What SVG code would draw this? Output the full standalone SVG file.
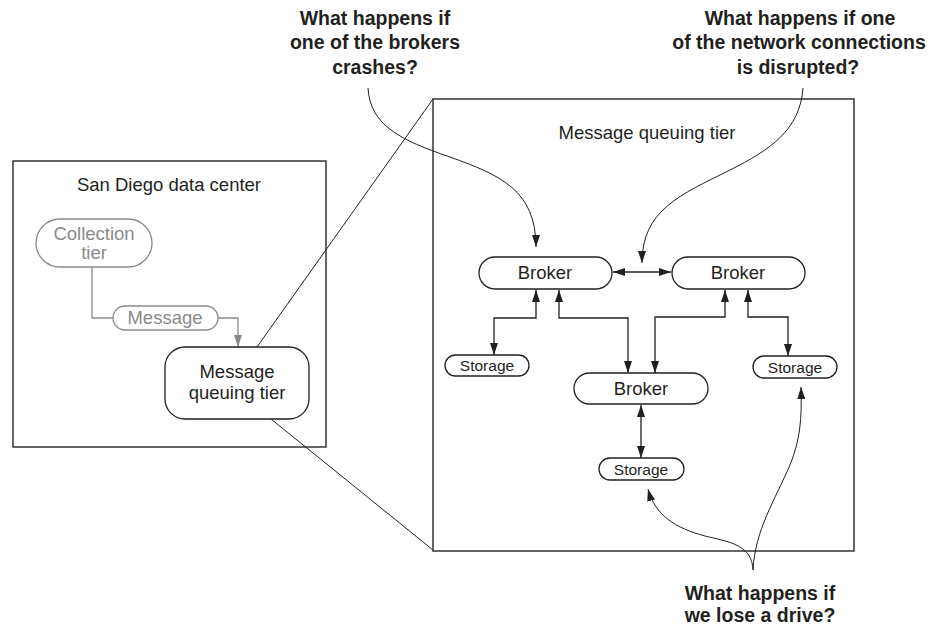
<svg xmlns="http://www.w3.org/2000/svg" width="930" height="629" viewBox="0 0 930 629">
<style>
text{font-family:"Liberation Sans",Arial,sans-serif;fill:#231f20}
.t{font-size:18.5px;text-anchor:middle}
.s{font-size:15.5px;text-anchor:middle}
.g{fill:#8a8a8a}
.q{font-size:19.5px;font-weight:bold;text-anchor:middle}
.box{fill:#fff;stroke:#333;stroke-width:1.5}
.pill{fill:#fff;stroke:#231f20;stroke-width:1.3}
.gpill{fill:#fff;stroke:#8a8a8a;stroke-width:1.3}
.c{fill:none;stroke:#231f20;stroke-width:1.3}
.gc{fill:none;stroke:#8a8a8a;stroke-width:1.3}
.cv{fill:none;stroke:#231f20;stroke-width:1}
</style>
<defs>
<marker id="ah" viewBox="0 0 12 8" refX="12" refY="4" markerWidth="12" markerHeight="8" markerUnits="userSpaceOnUse" orient="auto-start-reverse"><path d="M0,0 L12,4 L0,8 z" fill="#231f20"/></marker>
<marker id="gah" viewBox="0 0 12 8" refX="12" refY="4" markerWidth="12" markerHeight="8" markerUnits="userSpaceOnUse" orient="auto"><path d="M0,0 L12,4 L0,8 z" fill="#8a8a8a"/></marker>
</defs>

<g id="sandiego">
<rect class="box" x="13" y="161" width="313" height="286"/>
<text class="t" x="169" y="191">San Diego data center</text>
</g>
<g id="mqtier">
<rect class="box" x="433" y="99" width="421" height="452"/>
<text class="t" x="647" y="139">Message queuing tier</text>
</g>

<g id="connectors">
<line class="cv" x1="257" y1="347" x2="433" y2="99"/>
<line class="cv" x1="271" y1="419" x2="433" y2="550"/>
<path class="gc" d="M92,267 V318 H113"/>
<path class="gc" d="M218,318 H238 V347" marker-end="url(#gah)"/>
<path class="c" d="M613,272 H671" marker-start="url(#ah)" marker-end="url(#ah)"/>
<path class="c" d="M536,290 V318 H494 V355" marker-start="url(#ah)" marker-end="url(#ah)"/>
<path class="c" d="M559,290 V318 H628 V373" marker-start="url(#ah)" marker-end="url(#ah)"/>
<path class="c" d="M655,373 V317 H725 V290" marker-start="url(#ah)" marker-end="url(#ah)"/>
<path class="c" d="M748,290 V317 H788 V356" marker-start="url(#ah)" marker-end="url(#ah)"/>
<path class="c" d="M641,405 V458" marker-start="url(#ah)" marker-end="url(#ah)"/>
<path class="cv" d="M368,88 C370,125 400,140 450,157 C500,175 536,190 536,247" marker-end="url(#ah)"/>
<path class="cv" d="M803,88 C800,130 770,150 730,170 C680,195 642,210 642,263" marker-end="url(#ah)"/>
<path class="cv" d="M753,570 C752,545 730,542 705,536 C675,528 655,515 648,489" marker-end="url(#ah)"/>
<path class="cv" d="M753,570 C755,530 775,500 790,465 C800,440 802,420 801,387" marker-end="url(#ah)"/>
</g>

<g id="collection">
<rect class="gpill" x="36" y="219" width="116" height="48" rx="24"/>
<text class="t g" x="94" y="240">Collection</text>
<text class="t g" x="94" y="259">tier</text>
</g>
<g id="message">
<rect class="gpill" x="113" y="306" width="105" height="24" rx="12"/>
<text class="t g" x="165" y="324">Message</text>
</g>
<g id="mq-node">
<rect class="pill" x="165" y="347" width="144" height="72" rx="20"/>
<text class="t" x="237" y="378">Message</text>
<text class="t" x="237" y="399">queuing tier</text>
</g>

<g id="broker1">
<rect class="pill" x="479" y="257" width="133" height="32" rx="16"/>
<text class="t" x="545" y="279">Broker</text>
</g>
<g id="broker2">
<rect class="pill" x="672" y="257" width="133" height="32" rx="16"/>
<text class="t" x="738" y="279">Broker</text>
</g>
<g id="broker3">
<rect class="pill" x="574" y="373" width="134" height="31" rx="15.5"/>
<text class="t" x="641" y="395">Broker</text>
</g>
<g id="storage1">
<rect class="pill" x="445" y="355" width="84" height="21" rx="10.5"/>
<text class="s" x="487" y="371">Storage</text>
</g>
<g id="storage2">
<rect class="pill" x="753" y="356" width="84" height="22" rx="11"/>
<text class="s" x="795" y="373">Storage</text>
</g>
<g id="storage3">
<rect class="pill" x="599" y="458" width="85" height="22" rx="11"/>
<text class="s" x="641" y="475">Storage</text>
</g>

<g id="q-crash">
<text class="q" x="375" y="25">What happens if</text>
<text class="q" x="375" y="49">one of the brokers</text>
<text class="q" x="375" y="74">crashes?</text>
</g>
<g id="q-network">
<text class="q" x="800" y="25">What happens if one</text>
<text class="q" x="799" y="49">of the network connections</text>
<text class="q" x="798" y="74">is disrupted?</text>
</g>
<g id="q-drive">
<text class="q" x="760" y="600">What happens if</text>
<text class="q" x="760" y="622">we lose a drive?</text>
</g>
</svg>
